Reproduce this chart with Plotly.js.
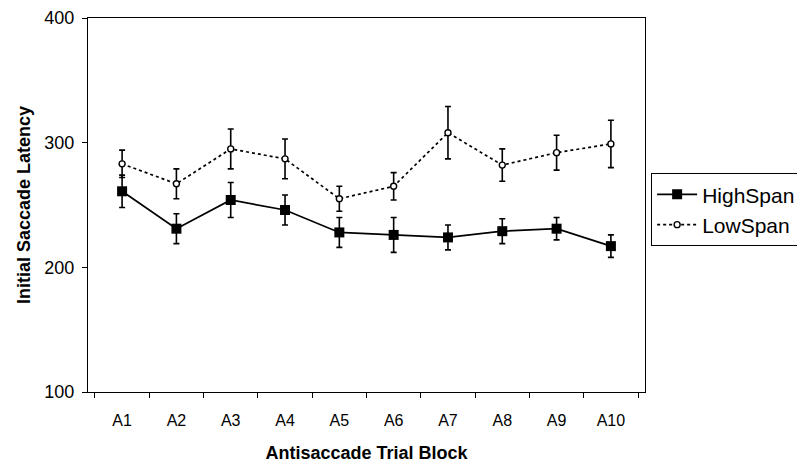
<!DOCTYPE html>
<html>
<head>
<meta charset="utf-8">
<script src="https://cdn.plot.ly/plotly-3.0.1.min.js"></script>
<style>html,body{margin:0;padding:0;background:#fff;}#chart{width:797px;height:464px;}</style>
</head>
<body>
<div id="chart"></div>
<script>
const categories = ["A1","A2","A3","A4","A5","A6","A7","A8","A9","A10"];
const highSpan = [261, 231, 254, 246, 228, 226, 224, 229, 231, 217];
const highSpanErr = [13, 12, 14, 12, 12, 14, 10, 10, 9, 9];
const lowSpan = [283, 267, 295, 287, 255, 265, 308, 282, 292, 299];
const lowSpanErr = [11, 12, 16, 16, 10, 11, 21, 13, 14, 19];
const yTicks = [100, 200, 300, 400];

const FONT = "Liberation Sans, Arial, sans-serif";

const traces = [
  {
    name: "HighSpan", x: categories, y: highSpan, type: "scatter", mode: "lines+markers",
    line: {color: "#000", width: 1.7},
    marker: {symbol: "square", size: 10, color: "#000"},
    error_y: {type: "data", array: highSpanErr, visible: true, color: "#000", thickness: 1.6, width: 3}
  },
  {
    name: "LowSpan", x: categories, y: lowSpan, type: "scatter", mode: "lines+markers",
    line: {color: "#000", width: 1.7, dash: "dot"},
    marker: {symbol: "circle", size: 6, color: "#fff", line: {color: "#000", width: 1.4}},
    error_y: {type: "data", array: lowSpanErr, visible: true, color: "#000", thickness: 1.6, width: 3}
  }
];

const layout = {
  width: 797, height: 464,
  margin: {l: 88, r: 152, t: 18, b: 72, pad: 0, autoexpand: false},
  paper_bgcolor: "#fff", plot_bgcolor: "#fff",
  font: {family: FONT, color: "#000", size: 16},
  showlegend: true,
  legend: {
    x: 1.011, y: 0.585, xanchor: "left", yanchor: "top",
    bgcolor: "#fff", bordercolor: "#000", borderwidth: 1,
    font: {family: FONT, size: 21, color: "#000"},
    itemwidth: 40,
    tracegroupgap: 0
  },
  xaxis: {
    type: "category", tickson: "boundaries",
    showline: true, linecolor: "#000", linewidth: 1.2, mirror: true,
    ticks: "outside", ticklen: 5, tickcolor: "#000", tickwidth: 1,
    showgrid: false, zeroline: false,
    ticklabelstandoff: 14,
    tickfont: {family: FONT, size: 16, color: "#000"},
    title: {text: "<b>Antisaccade Trial Block</b>", font: {family: FONT, size: 18, color: "#000"}, standoff: 18}
  },
  yaxis: {
    range: [100, 400], tickvals: yTicks, ticktext: yTicks.map(String),
    showline: true, linecolor: "#000", linewidth: 1.2, mirror: true,
    ticks: "outside", ticklen: 5, tickcolor: "#000", tickwidth: 1,
    showgrid: false, zeroline: false,
    ticklabelstandoff: 4,
    tickfont: {family: FONT, size: 18, color: "#000"},
    title: {text: "<b>Initial Saccade Latency</b>", font: {family: FONT, size: 18, color: "#000"}, standoff: 8}
  }
};

Plotly.newPlot("chart", traces, layout, {displayModeBar: false, staticPlot: true});
</script>
</body>
</html>
